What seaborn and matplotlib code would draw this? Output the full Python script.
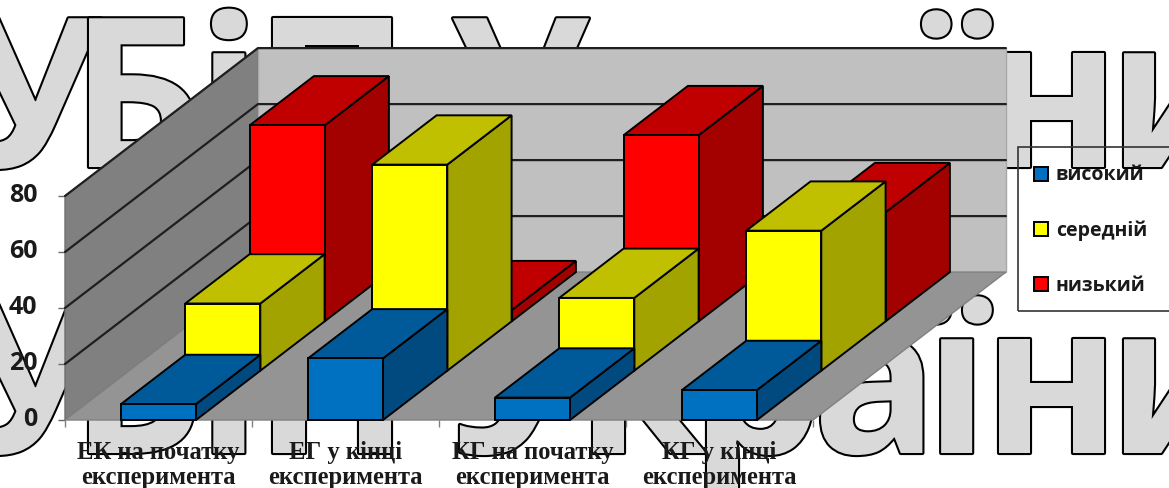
"""
3D-style stacked-depth bar chart with the outlined watermark behind it
"""

import matplotlib
matplotlib.use("Agg")
import matplotlib.pyplot as plt
import matplotlib.patheffects as pe
from matplotlib.font_manager import FontProperties
from matplotlib.patches import Polygon, Rectangle, Patch
from matplotlib.text import TextPath
from matplotlib.transforms import ScaledTranslation
import numpy as np
import pandas as pd
import seaborn as sns

categories = ["ЕК на початку\nексперимента", "ЕГ у кінці\nексперимента",
              "КГ на початку\nексперимента", "КГ у кінці\nексперимента"]
series_names = ["високий", "середній", "низький"]
high = [5.7, 22, 8, 10.7]
medium = [24, 73.6, 26, 50]
low = [70, 4, 66.5, 39]
y_ticks = [0, 20, 40, 60, 80]
watermark = "НУБіПУкраїни"

W, H = 1169, 488
ROW_DX = 64.3 / 187   # depth of one row, in category units
ROW_DY = 49.3 / 2.8   # depth of one row, in value units
BAR_W = 75 / 187
MARK_SIZE = 150
# left ink edge of each watermark letter, in pixels
mark_left = [-165, -35, 89, 212, 273, 453, 593, 707, 821, 922, 999, 1124]

# front, top, side shades per series
shades = [("#0070c0", "#005a9a", "#004a80"),
          ("#ffff00", "#c0c000", "#a3a300"),
          ("#ff0000", "#c00000", "#a30000")]

sns.set_theme(style="white")
fig = plt.figure(figsize=(W / 100, H / 100), dpi=100, facecolor="white")
ax = fig.add_axes([65 / W, (H - 420) / H, 748 / W, 224 / H])
ax.patch.set_visible(False)

# watermark lines sit behind the whole chart
mark_font = FontProperties(family="Open Sans", weight="bold")
for base_px in (167, 453):
    for letter, left in zip(watermark, mark_left):
        # text is placed by its advance box, so take off the side bearing
        bearing = TextPath((0, 0), letter, size=MARK_SIZE, prop=mark_font).get_extents().x0 * 100 / 72
        fig.text((left - bearing) / W, (H - base_px) / H, letter, fontproperties=mark_font,
                 fontsize=MARK_SIZE, color="#d9d9d9", ha="left", va="baseline", zorder=-1,
                 path_effects=[pe.Stroke(linewidth=3, foreground="black", joinstyle="round"),
                               pe.Normal()])

depth_x = ROW_DX * 3
depth_y = ROW_DY * 3
ymax = y_ticks[-1]
xmax = len(categories)

# walls and floor
ax.add_patch(Polygon([(0, 0), (depth_x, depth_y), (depth_x, depth_y + ymax), (0, ymax)],
                     fc="#808080", ec="#707070", lw=1, zorder=1, clip_on=False))
ax.add_patch(Rectangle((depth_x, depth_y), xmax, ymax, fc="#c0c0c0", ec="#a8a8a8", lw=1,
                       zorder=1, clip_on=False))
ax.add_patch(Polygon([(0, 0), (xmax, 0), (xmax + depth_x, depth_y), (depth_x, depth_y)],
                     fc="#949494", ec="#808080", lw=1, zorder=1.1, clip_on=False))
for t in y_ticks[1:]:
    ax.plot([0, depth_x, depth_x + xmax], [t, t + depth_y, t + depth_y], color="#1f1f1f",
            lw=1.6, zorder=1.2, clip_on=False)

centers = np.arange(xmax) + 0.5
rows = [high, medium, low]

# back row first so nearer rows cover it
for row in [2, 1, 0]:
    values = rows[row]
    front, top, side = shades[row]
    off_x, off_y = ROW_DX * row, ROW_DY * row
    z = 2 + (2 - row)
    df = pd.DataFrame({"x": centers + off_x, "value": values})
    sns.barplot(data=df, x="x", y="value", native_scale=True, width=BAR_W, color=front,
                saturation=1, edgecolor="black", linewidth=1.4, bottom=off_y, zorder=z + 0.5,
                clip_on=False, ax=ax)
    for c, v in zip(centers, values):
        x0 = c + off_x - BAR_W / 2
        x1 = x0 + BAR_W
        y0, y1 = off_y, off_y + v
        ax.add_patch(Polygon([(x1, y0), (x1 + ROW_DX, y0 + ROW_DY), (x1 + ROW_DX, y1 + ROW_DY), (x1, y1)],
                             fc=side, ec="black", lw=1.4, zorder=z, clip_on=False))
        ax.add_patch(Polygon([(x0, y1), (x1, y1), (x1 + ROW_DX, y1 + ROW_DY), (x0 + ROW_DX, y1 + ROW_DY)],
                             fc=top, ec="black", lw=1.4, zorder=z, clip_on=False))

ax.set_xlim(0, xmax)
ax.set_ylim(0, ymax)
ax.set_xlabel("")
ax.set_ylabel("")
sns.despine(ax=ax, left=True, bottom=True, top=True, right=True)

ax.set_yticks(y_ticks)
ax.set_yticklabels([str(t) for t in y_ticks], family="Open Sans", weight="bold", color="#1a1a1a", fontsize=18)
ax.tick_params(axis="y", left=True, length=5, width=1, color="#666666", pad=15)
# tick labels ride a little above their ticks
nudge = ScaledTranslation(0, 3 / 100, fig.dpi_scale_trans)
for lbl in ax.get_yticklabels():
    lbl.set_transform(lbl.get_transform() + nudge)

ax.set_xticks(centers)
ax.set_xticklabels(categories, family="Liberation Serif", weight="bold", color="#1a1a1a",
                   fontsize=17.7, linespacing=1.12)
ax.set_xticks(np.arange(xmax + 1), minor=True)
ax.tick_params(axis="x", which="major", bottom=False, pad=9)
ax.tick_params(axis="x", which="minor", bottom=True, length=5, width=1, color="#808080")

# legend box runs off the right edge of the picture
fig.add_artist(Rectangle((1018 / W, (H - 311) / H), 160 / W, 164 / H, fc="none", ec="#333333",
                         lw=1.2, transform=fig.transFigure))
handles = [Patch(fc=s[0], ec="black", lw=1.4) for s in shades]
fig.legend(handles, series_names, loc="upper left", bbox_to_anchor=(1016 / W, (H - 148) / H),
           frameon=False, prop={"family": "Open Sans", "weight": "bold", "size": 14},
           handlelength=0.75, handleheight=0.75, handletextpad=0.4, labelspacing=1.8,
           labelcolor="#1a1a1a")

fig.savefig("out.png", dpi=100)
